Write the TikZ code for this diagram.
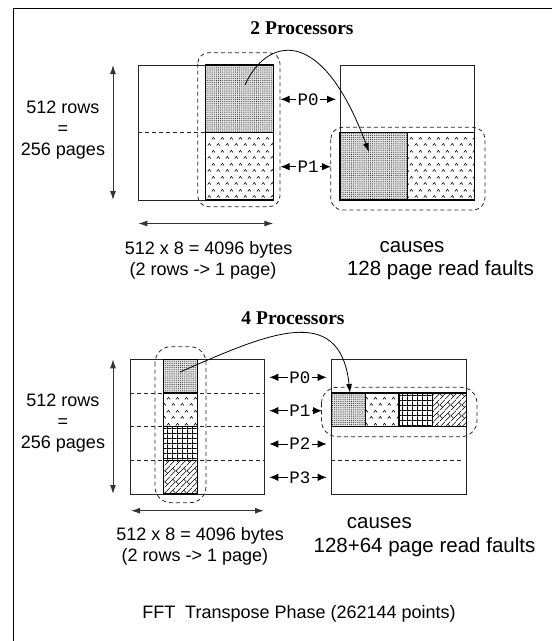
\documentclass[tikz,border=0pt]{standalone}
\usepackage{fontspec}
\setmainfont{Liberation Serif}
\newfontfamily\lsans{Liberation Sans}
\newfontfamily\lmono{Liberation Mono}
\usetikzlibrary{arrows.meta,patterns}

\pgfdeclarepatternformonly{fdots}{\pgfqpoint{-1pt}{-1pt}}{\pgfqpoint{1pt}{1pt}}{\pgfqpoint{1.9pt}{1.9pt}}{%
  \pgfpathcircle{\pgfqpoint{0pt}{0pt}}{0.42pt}\pgfusepath{fill}}
\pgfdeclarepatternformonly{fcarets}{\pgfqpoint{0pt}{0pt}}{\pgfqpoint{9pt}{13pt}}{\pgfqpoint{9pt}{13pt}}{%
  \pgfsetlinewidth{0.6pt}%
  \pgfpathmoveto{\pgfqpoint{0.8pt}{1.5pt}}\pgfpathlineto{\pgfqpoint{2.5pt}{3.8pt}}\pgfpathlineto{\pgfqpoint{4.2pt}{1.5pt}}%
  \pgfpathmoveto{\pgfqpoint{5.3pt}{8pt}}\pgfpathlineto{\pgfqpoint{7pt}{10.3pt}}\pgfpathlineto{\pgfqpoint{8.7pt}{8pt}}%
  \pgfusepath{stroke}}
\pgfdeclarepatternformonly{fgrid}{\pgfqpoint{-0.5pt}{-0.5pt}}{\pgfqpoint{4.3pt}{4.3pt}}{\pgfqpoint{4.8pt}{4.8pt}}{%
  \pgfsetlinewidth{0.75pt}%
  \pgfpathmoveto{\pgfqpoint{-0.5pt}{0pt}}\pgfpathlineto{\pgfqpoint{4.3pt}{0pt}}%
  \pgfpathmoveto{\pgfqpoint{0pt}{-0.5pt}}\pgfpathlineto{\pgfqpoint{0pt}{4.3pt}}%
  \pgfusepath{stroke}}
\pgfdeclarepatternformonly{fbrick}{\pgfqpoint{0pt}{0pt}}{\pgfqpoint{11pt}{11pt}}{\pgfqpoint{11pt}{11pt}}{%
  \pgfsetlinewidth{0.6pt}%
  \pgfpathmoveto{\pgfqpoint{0pt}{0pt}}\pgfpathlineto{\pgfqpoint{11pt}{11pt}}%
  \pgfpathmoveto{\pgfqpoint{0pt}{5.5pt}}\pgfpathlineto{\pgfqpoint{5.5pt}{11pt}}%
  \pgfpathmoveto{\pgfqpoint{5.5pt}{0pt}}\pgfpathlineto{\pgfqpoint{11pt}{5.5pt}}%
  \pgfpathmoveto{\pgfqpoint{2.75pt}{2.75pt}}\pgfpathlineto{\pgfqpoint{0pt}{5.5pt}}%
  \pgfpathmoveto{\pgfqpoint{8.25pt}{8.25pt}}\pgfpathlineto{\pgfqpoint{11pt}{5.5pt}}%
  \pgfusepath{stroke}}

\tikzset{
  mat/.style={draw=black!85, line width=0.9pt},
  blk/.style={draw=black, line width=1.1pt},
  dotblk/.style={blk, preaction={fill=gray!22}, pattern=fdots},
  carblk/.style={blk, pattern=fcarets},
  gridblk/.style={blk, pattern=fgrid},
  brickblk/.style={blk, pattern=fbrick},
  dsh/.style={draw=black!85, line width=0.8pt, dash pattern=on 4pt off 3pt},
  dimarr/.style={draw=black!80, line width=1pt, {Latex[length=9pt,width=6pt]}-{Latex[length=9pt,width=6pt]}},
  parr/.style={draw=black, line width=1pt, -{Latex[length=9pt,width=7.5pt]}},
  curv/.style={draw=black, line width=0.8pt, -{Latex[length=9pt,width=6pt]}},
  lbl/.style={font=\lsans\fontsize{18}{20}\selectfont, inner sep=0pt, anchor=base},
  biglbl/.style={font=\lsans\fontsize{20.5}{23}\selectfont, inner sep=0pt, anchor=base},
  ttl/.style={font=\bfseries\fontsize{19.5}{21}\selectfont, inner sep=0pt, anchor=base},
  plab/.style={font=\lmono\fontsize{17.5}{19}\selectfont, inner sep=1pt, anchor=center}
}

\begin{document}
\begin{tikzpicture}[x=1pt,y=-1pt]
\useasboundingbox (0,0) rectangle (557,641);
% frame
\coordinate (fA) at (13,641);
\coordinate (fB) at (13,8);
\coordinate (fC) at (552,8);
\draw[line width=1pt] (fA) -- (fB) -- (fC);

% ================= 2 processors =================
\node[ttl] (t2) at (302,34.6) {2 Processors};

\node[lbl] (r1) at (63,113) {512 rows};
\node[lbl] (r2) at (63,134) {=};
\node[lbl] (r3) at (63,155) {256 pages};
\coordinate (v1a) at (113,65);
\coordinate (v1b) at (113,200);
\draw[dimarr] (v1a) -- (v1b);

% left matrix
\draw[mat] (138.3,65) rectangle (273.3,200);
\draw[dsh] (138.3,132.5) -- (205.7,132.5);
\path[dotblk] (205.7,65) rectangle (273.3,132.5);
\path[carblk] (205.7,132.5) rectangle (273.3,200);
\draw[dsh, rounded corners=11pt] (197.7,52.7) rectangle (280,206.7);

\coordinate (h1a) at (138.3,223.5);
\coordinate (h1b) at (273.3,223.5);
\draw[dimarr] (h1a) -- (h1b);
\node[lbl] (b1) at (208.7,254.5) {512 x 8 = 4096 bytes};
\node[lbl] (b2) at (203,275.5) {(2 rows -> 1 page)};

% right matrix
\draw[mat] (340,65) rectangle (474.3,200);
\path[dotblk] (340,132.5) rectangle (407.2,200);
\path[carblk] (407.2,132.5) rectangle (474.3,200);
\draw[dsh, rounded corners=12pt] (330.7,127.3) rectangle (485,210);

\node[biglbl] (c1) at (412,252.5) {causes};
\node[biglbl] (c2) at (440.5,275.5) {128 page read faults};

% processor labels
\node[plab] (p0a) at (308,99.3) {P0};
\node[plab] (p1a) at (308,166.7) {P1};
\coordinate (p0aL) at (280.5,99.3);
\coordinate (p0aR) at (336,99.3);
\coordinate (p1aL) at (280.5,166.7);
\coordinate (p1aR) at (331,166.7);
\draw[parr] (p0a.west) -- (p0aL);
\draw[parr] (p0a.east) -- (p0aR);
\draw[parr] (p1a.west) -- (p1aL);
\draw[parr] (p1a.east) -- (p1aR);

% curve
\coordinate (k1s) at (245,85);
\coordinate (k1e) at (369,152);
\draw[curv] (k1s) .. controls (265,40) and (320,20) .. (k1e);

% ================= 4 processors =================
\node[ttl] (t4) at (293,324.6) {4 Processors};

\node[lbl] (s1) at (63,406) {512 rows};
\node[lbl] (s2) at (63,427) {=};
\node[lbl] (s3) at (63,448) {256 pages};
\coordinate (v2a) at (113,359.3);
\coordinate (v2b) at (113,494);
\draw[dimarr] (v2a) -- (v2b);

% left matrix
\draw[mat] (130,359.3) rectangle (264.3,494);
\foreach \yy in {393,426.7,460.3} \draw[dsh] (130,\yy) -- (264.3,\yy);
\path[dotblk] (163.6,359.3) rectangle (197.2,393);
\path[carblk] (163.6,393) rectangle (197.2,426.7);
\path[gridblk] (163.6,426.7) rectangle (197.2,460.3);
\path[brickblk] (163.6,460.3) rectangle (197.2,494);
\draw[dsh, rounded corners=16pt] (155,346.7) rectangle (206,502.7);

\coordinate (h2a) at (131,510.7);
\coordinate (h2b) at (264,510.7);
\draw[dimarr] (h2a) -- (h2b);
\node[lbl] (d1) at (200.2,540) {512 x 8 = 4096 bytes};
\node[lbl] (d2) at (194.8,561) {(2 rows -> 1 page)};

% right matrix
\draw[mat] (331.4,359.3) rectangle (466.4,494);
\draw[dsh] (331.4,460.3) -- (463,460.3);
\path[dotblk] (331.4,393) rectangle (365.2,426.7);
\path[carblk] (365.2,393) rectangle (399,426.7);
\path[gridblk] (399,393) rectangle (432.7,426.7);
\path[brickblk] (432.7,393) rectangle (466.4,426.7);
\draw[dsh, rounded corners=16pt] (321.5,387.3) rectangle (477,436.7);

\node[biglbl] (e1) at (379.4,528.6) {causes};
\node[biglbl] (e2) at (424.5,552) {128+64 page read faults};

% processor labels
\node[plab] (q0) at (300,377.3) {P0};
\node[plab] (q1) at (300,410.7) {P1};
\node[plab] (q2) at (300,444) {P2};
\node[plab] (q3) at (300,477.3) {P3};
\coordinate (q0L) at (269.3,377.3);
\coordinate (q0R) at (326.7,377.3);
\coordinate (q1L) at (269.3,410.7);
\coordinate (q1R) at (322,410.7);
\coordinate (q2L) at (269.3,444);
\coordinate (q2R) at (326.7,444);
\coordinate (q3L) at (269.3,477.3);
\coordinate (q3R) at (326.7,477.3);
\foreach \n in {q0,q1,q2,q3} {
  \draw[parr] (\n.west) -- (\n L);
  \draw[parr] (\n.east) -- (\n R);
}

% curve
\coordinate (k2s) at (180,372);
\coordinate (k2e) at (350,393);
\draw[curv] (k2s) .. controls (265,335) and (340,300) .. (k2e);

\node[lbl] (fft) at (299,618) {FFT\ \ Transpose Phase (262144 points)};
\end{tikzpicture}
\end{document}
